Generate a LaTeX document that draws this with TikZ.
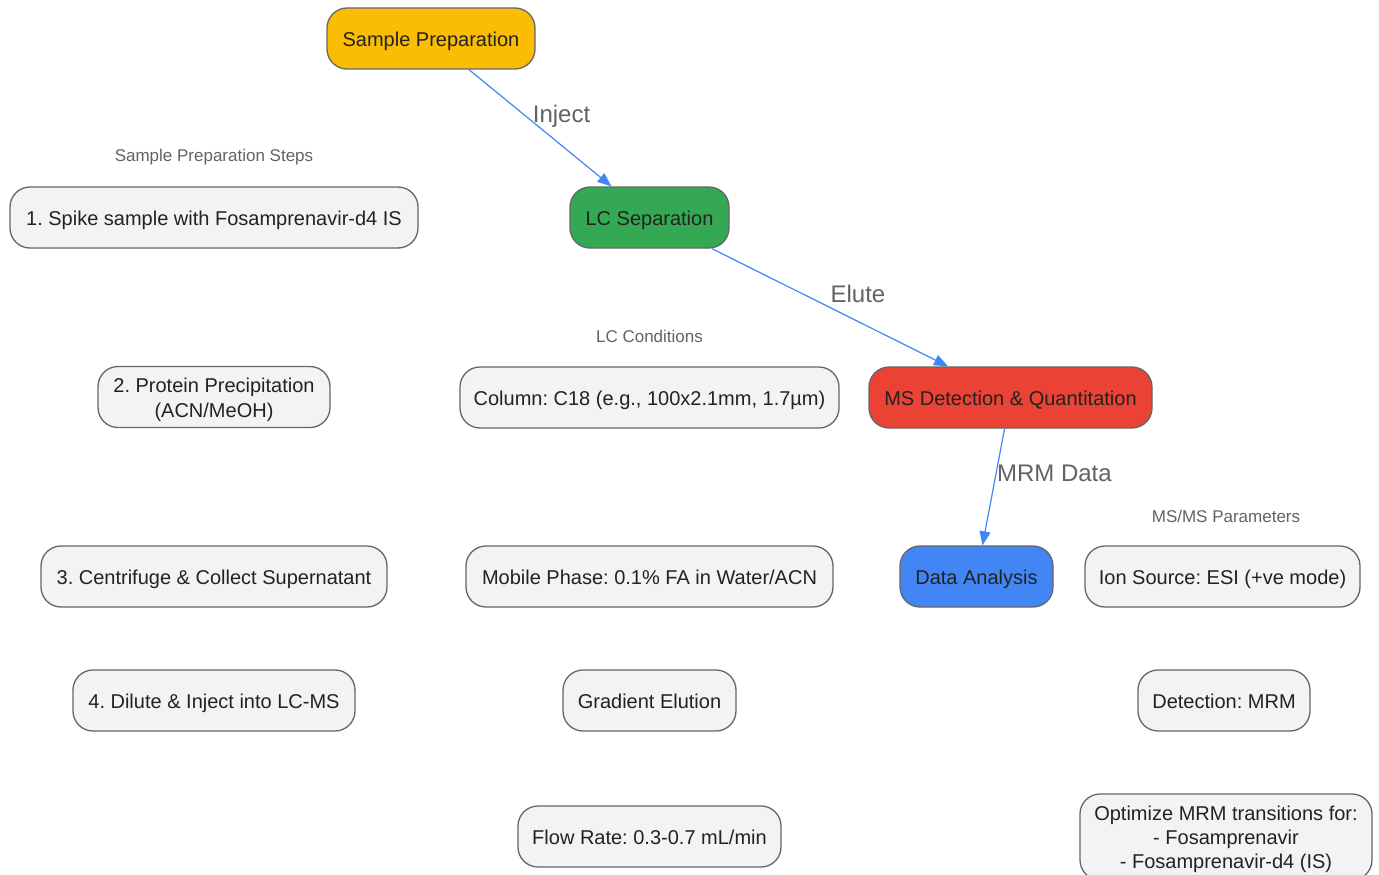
\documentclass[tikz,border=0pt]{standalone}
\usepackage{fontspec}
\setmainfont{Liberation Sans}
\usetikzlibrary{arrows.meta}

\definecolor{prepyellow}{HTML}{FBBC04}
\definecolor{lcgreen}{HTML}{34A853}
\definecolor{msred}{HTML}{EA4335}
\definecolor{datablue}{HTML}{4285F4}
\definecolor{boxgray}{HTML}{F1F3F4}
\definecolor{linegray}{HTML}{666666}
\definecolor{textdark}{HTML}{222222}
\definecolor{labelgray}{HTML}{5F6368}

\newcommand{\firstline}{\rule{0pt}{20pt}}

\begin{document}
\frenchspacing
\begin{tikzpicture}[x=1pt, y=-1pt,
	boxbase/.style={draw=linegray, line width=1.3pt, rounded corners=20pt, minimum height=61pt, inner sep=0pt, align=center, text=textdark, font=\fontsize{20}{24}\selectfont},
	box/.style={boxbase, text height=20pt, text depth=4pt},
	detail/.style={box, fill=boxgray},
	multidetail/.style={boxbase, fill=boxgray},
	grouptitle/.style={text=labelgray, inner sep=0pt, font=\fontsize{17}{20}\selectfont},
	flow/.style={draw=datablue, line width=1.2pt, -{Triangle[length=14pt, width=11pt]}},
	flowlabel/.style={anchor=west, inner sep=0pt, yshift=14pt, text=labelgray, font=\fontsize{24}{28}\selectfont}]
	\useasboundingbox (0,0) rectangle (1379,875);
	
	%main stages
	\node[box, fill=prepyellow, minimum width=208pt] (prep) at (431,38.5) {Sample Preparation};
	\node[box, fill=lcgreen, minimum width=159pt] (lc) at (649.5,217.5) {LC Separation};
	\node[box, fill=msred, minimum width=283pt] (ms) at (1010.5,397.5) {MS Detection \& Quantitation};
	\node[box, fill=datablue, minimum width=153pt] (data) at (976.5,576.5) {Data Analysis};
	
	%flow
	\draw[flow] (prep) -- (lc) node[midway, flowlabel, xshift=-8pt, yshift=-2pt] {Inject};
	\draw[flow] (lc) -- (ms) node[midway, flowlabel] {Elute};
	\draw[flow] (ms) -- (data) node[midway, flowlabel, xshift=3pt] {MRM Data};
	
	%sample preparation steps
	\node[grouptitle] (preptitle) at (214,157) {Sample Preparation Steps};
	\node[detail, minimum width=408pt] (step1) at (214,217.5) {1. Spike sample with Fosamprenavir-d4 IS};
	\node[multidetail, minimum width=232pt, font=\fontsize{20}{25}\selectfont] (step2) at (214,397) {\firstline 2. Protein Precipitation\\(ACN/MeOH)};
	\node[detail, minimum width=346pt] (step3) at (214,576.5) {3. Centrifuge \& Collect Supernatant};
	\node[detail, minimum width=282pt] (step4) at (214,700.5) {4. Dilute \& Inject into LC-MS};
	
	%lc conditions
	\node[grouptitle] (lctitle) at (649.5,336) {LC Conditions};
	\node[detail, minimum width=379pt] (column) at (649.5,397.5) {Column: C18 (e.g., 100x2.1mm, 1.7\textmu m)};
	\node[detail, minimum width=367pt] (mobile) at (649.5,576.5) {Mobile Phase: 0.1\% FA in Water/ACN};
	\node[detail, minimum width=173pt] (gradient) at (649.5,700.5) {Gradient Elution};
	\node[detail, minimum width=263pt] (flowrate) at (649.5,836.5) {Flow Rate: 0.3-0.7 mL/min};
	
	%ms/ms parameters
	\node[grouptitle] (mstitle) at (1226,516) {MS/MS Parameters};
	\node[detail, minimum width=275pt] (source) at (1222.5,576.5) {Ion Source: ESI (+ve mode)};
	\node[detail, minimum width=172pt] (detect) at (1224,700.5) {Detection: MRM};
	\node[multidetail, minimum width=292pt, minimum height=86pt] (optimize) at (1226,837) {\firstline Optimize MRM transitions for:\\- Fosamprenavir\\- Fosamprenavir-d4 (IS)};
\end{tikzpicture}
\end{document}
